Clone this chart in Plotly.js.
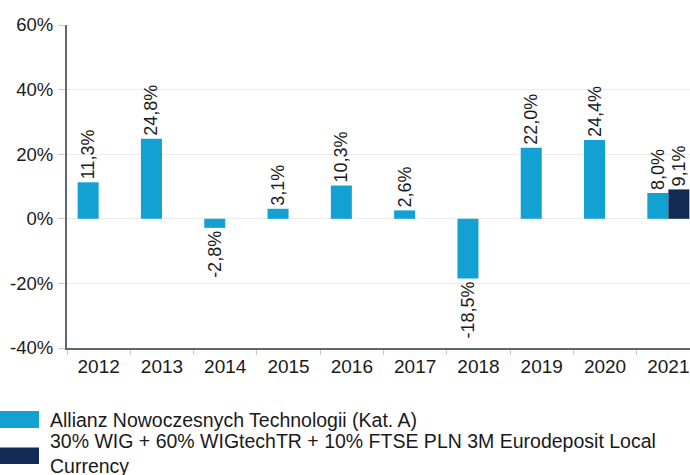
<!DOCTYPE html>
<html>
<head>
<meta charset="utf-8">
<script src="https://cdn.plot.ly/plotly-3.0.1.min.js"></script>
<style>
html,body{margin:0;padding:0;overflow:hidden;background:#fff;}
#chart{width:702px;height:475px;}
</style>
</head>
<body>
<div id="chart"></div>
<script>
// ---- data ----
const years = ['2012','2013','2014','2015','2016','2017','2018','2019','2020','2021'];
const fundValues = [11.3, 24.8, -2.8, 3.1, 10.3, 2.6, -18.5, 22.0, 24.4, 8.0];
const benchValues = [null, null, null, null, null, null, null, null, null, 9.1];
const fundName = 'Allianz Nowoczesnych Technologii (Kat. A)';
const benchName = '30% WIG + 60% WIGtechTR + 10% FTSE PLN 3M Eurodeposit Local<br>Currency';
const yTickVals = [-40, -20, 0, 20, 40, 60];
const yTickText = ['-40%', '-20%', '0%', '20%', '40%', '60%'];

// ---- style ----
const FUND_COLOR = '#13a0d3';
const BENCH_COLOR = '#122b55';
const FONT = '"Liberation Sans", Arial, sans-serif';
const W = 702, H = 475, ML = 67, MR = 2, MT = 25, MB = 127;
const PW = W - ML - MR, PH = H - MT - MB;
const px2x = p => (p - ML) / PW;
const py2y = p => (H - MB - p) / PH;

const fmt = v => (v === null ? '' : v.toFixed(1).replace('.', ',') + '%');

const traces = [
  {
    type: 'bar', name: fundName, x: years, y: fundValues,
    text: fundValues.map(fmt), textposition: 'outside', textangle: -90,
    constraintext: 'none', cliponaxis: false,
    textfont: {family: FONT, size: 18, color: '#1a1a1a'},
    marker: {color: FUND_COLOR}, hoverinfo: 'none'
  },
  {
    type: 'bar', name: benchName, x: years, y: benchValues,
    text: benchValues.map(fmt), textposition: 'outside', textangle: -90,
    constraintext: 'none', cliponaxis: false,
    textfont: {family: FONT, size: 18, color: '#1a1a1a'},
    marker: {color: BENCH_COLOR}, hoverinfo: 'none'
  }
];

const legendItems = [
  {name: fundName, color: FUND_COLOR, sy0: 411, sy1: 428, ty: 420},
  {name: benchName, color: BENCH_COLOR, sy0: 447.5, sy1: 464, ty: 453}
];
const shapes = [], annotations = [];
legendItems.forEach(it => {
  shapes.push({type: 'rect', xref: 'paper', yref: 'paper',
    x0: px2x(0), x1: px2x(39), y0: py2y(it.sy1), y1: py2y(it.sy0),
    fillcolor: it.color, line: {width: 0}, layer: 'above'});
  annotations.push({xref: 'paper', yref: 'paper', x: px2x(48), y: py2y(it.ty),
    xanchor: 'left', yanchor: 'middle', align: 'left', showarrow: false,
    text: it.name, font: {family: FONT, size: 19.5, color: '#1a1a1a'}});
});

const layout = {
  width: W, height: H,
  margin: {l: ML, r: MR, t: MT, b: MB, pad: 0},
  paper_bgcolor: '#fff', plot_bgcolor: '#fff',
  barmode: 'group', bargap: 0.336, bargroupgap: 0,
  showlegend: false,
  font: {family: FONT, color: '#1a1a1a'},
  xaxis: {
    type: 'category', categoryorder: 'array', categoryarray: years,
    showline: true, linecolor: '#5d6873', linewidth: 2,
    ticks: 'outside', tickson: 'boundaries', ticklen: 5, tickcolor: '#c8c8c8', tickwidth: 1,
    tickfont: {family: FONT, size: 19, color: '#1a1a1a'},
    showgrid: false, zeroline: false, fixedrange: true
  },
  yaxis: {
    range: [-40, 60], tickvals: yTickVals, ticktext: yTickText,
    showline: true, linecolor: '#5d6873', linewidth: 2,
    ticks: 'outside', ticklen: 7, tickcolor: '#c8c8c8', tickwidth: 1,
    ticklabelstandoff: 1,
    tickfont: {family: FONT, size: 18.5, color: '#1a1a1a'},
    showgrid: true, gridcolor: '#ebebeb', gridwidth: 1,
    zeroline: true, zerolinecolor: '#ebebeb', zerolinewidth: 1,
    fixedrange: true
  },
  shapes: shapes,
  annotations: annotations
};

Plotly.newPlot('chart', traces, layout, {displayModeBar: false, staticPlot: true});
</script>
</body>
</html>
